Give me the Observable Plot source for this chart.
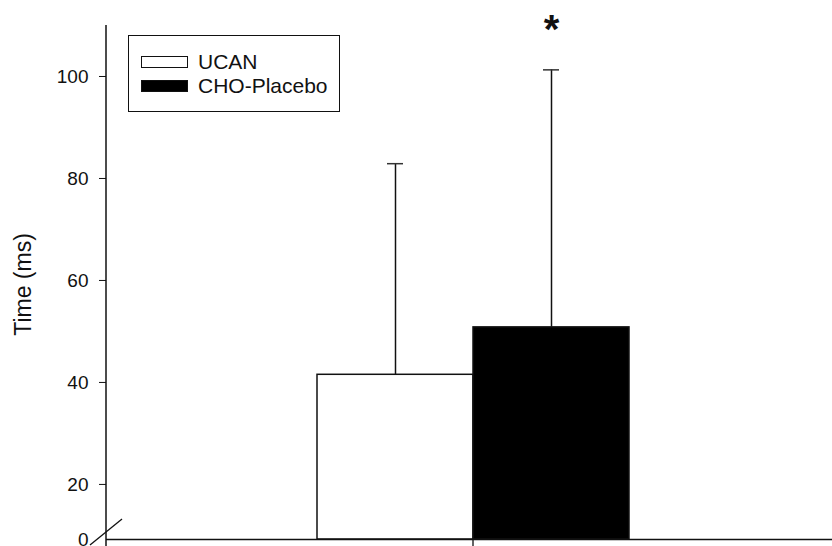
<!DOCTYPE html>
<html>
<head>
<meta charset="utf-8">
<script src="https://cdn.jsdelivr.net/npm/d3@7"></script>
<script src="https://cdn.jsdelivr.net/npm/@observablehq/plot@0.6"></script>
<style>
  html, body { margin: 0; padding: 0; background: white; overflow: hidden; }
  #wrap { position: relative; width: 832px; height: 546px; font-family: "Liberation Sans", Arial, sans-serif; }
  #legend { position: absolute; left: 128px; top: 35px; width: 212px; height: 77px; border: 1.5px solid #111; box-sizing: border-box; background: white; }
  .item { position: absolute; left: 12px; display: flex; align-items: center; height: 22px; font-size: 21px; color: #111; }
  .sw { width: 47px; height: 12px; border: 1.5px solid #111; box-sizing: border-box; margin-right: 10px; }
</style>
</head>
<body>
<div id="wrap"><div id="legend"></div></div>
<script>
// ---- data ----
const treatments = ["UCAN", "CHO-Placebo"];
const means = [41.5, 50.8];
const sds = [41.4, 50.5];
const fills = ["white", "black"];
const significance = ["", "*"];
const yTicks = [20, 40, 60, 80, 100];
const axisBreakValue = 9.2;   // the broken axis starts here; labelled "0"
const axisBreakLabel = "0";
const yMax = 110;
const yLabel = "Time (ms)";

const data = treatments.map((t, i) => ({
  treatment: t, mean: means[i], sd: sds[i], upper: means[i] + sds[i],
  fill: fills[i], sig: significance[i]
}));

const svgNS = "http://www.w3.org/2000/svg";
function line(x1, y1, x2, y2, w) {
  const l = document.createElementNS(svgNS, "line");
  l.setAttribute("x1", x1); l.setAttribute("y1", y1);
  l.setAttribute("x2", x2); l.setAttribute("y2", y2);
  l.setAttribute("stroke", "#111"); l.setAttribute("stroke-width", w);
  return l;
}
// y-axis domain line and break slash, center tick on the x axis
function axisDecor(index, scales, values, dims) {
  const g = document.createElementNS(svgNS, "g");
  const x0 = dims.marginLeft;
  const yb = scales.y(axisBreakValue);
  g.appendChild(line(x0, dims.marginTop, x0, dims.height, 1.5));
  g.appendChild(line(x0 - 16, yb + 6, x0 + 16, yb - 20, 1.3));
  const xb = scales.x(treatments[1]);
  g.appendChild(line(xb, yb, xb, dims.height, 1.3));
  return g;
}

const chart = Plot.plot({
  width: 832,
  height: 546,
  marginLeft: 106,
  marginRight: 0,
  marginTop: 25,
  marginBottom: 7,
  style: { fontFamily: "'Liberation Sans', Arial, sans-serif", fontSize: "19px", background: "white", overflow: "visible", color: "#111" },
  x: { domain: treatments, paddingInner: 0, paddingOuter: 1.315, align: 0.51, axis: null },
  y: { domain: [axisBreakValue, yMax], axis: null },
  marks: [
    Plot.barY(data, { x: "treatment", y1: axisBreakValue, y2: "mean", fill: d => d.fill, stroke: "#111", strokeWidth: 1.5 }),
    Plot.ruleX(data, { x: "treatment", y1: "mean", y2: "upper", stroke: "#111", strokeWidth: 1.5 }),
    Plot.tickY(data, { x: "treatment", y: "upper", insetLeft: 70, insetRight: 70, stroke: "#333", strokeWidth: 1.5 }),
    Plot.text(data.filter(d => d.sig), { x: "treatment", y: "upper", text: "sig", dy: -40, fontSize: 40, fontWeight: "bold", fill: "#111" }),
    Plot.ruleY([axisBreakValue], { stroke: "#111", strokeWidth: 1.5 }),
    Plot.axisY(yTicks, { tickSize: 7, tickPadding: 11, label: null, fontSize: 19 }),
    Plot.text([axisBreakValue], { y: d => d, text: () => axisBreakLabel, frameAnchor: "left", textAnchor: "end", dx: -18, fontSize: 19, fill: "#111" }),
    Plot.text([yLabel], { frameAnchor: "left", textAnchor: "middle", rotate: -90, dx: -83, dy: 2, fontSize: 23, fill: "#111" }),
    axisDecor
  ]
});
document.getElementById("wrap").prepend(chart);

// ---- legend ----
const legend = document.getElementById("legend");
const rowTops = [15, 39];
treatments.forEach((t, i) => {
  const item = document.createElement("div");
  item.className = "item";
  item.style.top = rowTops[i] + "px";
  const sw = document.createElement("span");
  sw.className = "sw";
  sw.style.background = fills[i];
  item.appendChild(sw);
  item.appendChild(document.createTextNode(t));
  legend.appendChild(item);
});
</script>
</body>
</html>
